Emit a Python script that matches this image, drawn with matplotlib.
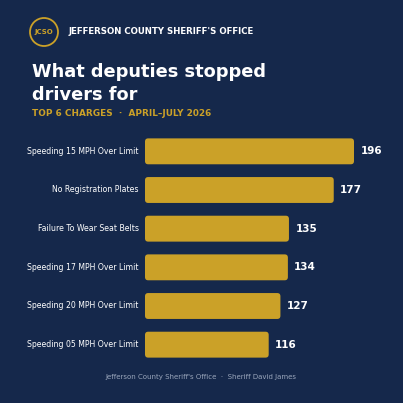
import matplotlib
matplotlib.use("Agg")
import matplotlib.pyplot as plt
from matplotlib.patches import FancyBboxPatch, Circle

charges = ["Speeding 15 MPH Over Limit", "No Registration Plates", "Failure To Wear Seat Belts",
           "Speeding 17 MPH Over Limit", "Speeding 20 MPH Over Limit", "Speeding 05 MPH Over Limit"]
counts = [196, 177, 135, 134, 127, 116]

BG = "#15284b"
GOLD = "#cba128"
plt.rcParams['font.family'] = ['DejaVu Sans']
fig = plt.figure(figsize=(4.03, 4.03), dpi=100, facecolor=BG)
W = H = 403.0
ax = fig.add_axes([145/W, (403-364)/H, 245/W, 232/H])
ax.set_facecolor(BG)
xmax = 196*245/209
ax.set_xlim(0, xmax)
ax.set_ylim(len(charges)-0.5, -0.5)
ys = list(range(len(charges)))
aspect = (1/38.7)/(xmax/245)
bars = ax.barh(ys, counts, height=0.67, color=GOLD)
for b, v, lab, y in zip(bars, counts, charges, ys):
    x0, y0, w, h = b.get_x(), b.get_y(), b.get_width(), b.get_height()
    b.set_visible(False)
    ax.add_patch(FancyBboxPatch((x0, y0), w, h, boxstyle="round,pad=0,rounding_size=3",
                                mutation_aspect=aspect, fc=GOLD, ec="none"))
    ax.text(v + 6, y, str(v), color="white", fontsize=7.5, fontweight="bold", va="center")
    ax.text(-6, y, lab, color="white", fontsize=5.6, va="center", ha="right")
ax.axis("off")

fig.patches.append(Circle((44/W, 1-32/H), 14/W, transform=fig.transFigure, fc="none", ec=GOLD, lw=1.3))
fig.text(44/W, 1-32/H, "JCSO", color=GOLD, fontsize=5, fontweight="bold", ha="center", va="center")
fig.text(69/W, 1-32/H, "JEFFERSON COUNTY SHERIFF'S OFFICE", color="white", fontsize=6.2, fontweight="bold", va="center")
fig.text(32/W, 1-72/H, "What deputies stopped", color="white", fontsize=12.8, fontweight="bold", va="center")
fig.text(32/W, 1-95/H, "drivers for", color="white", fontsize=12.8, fontweight="bold", va="center")
fig.text(32/W, 1-113/H, "TOP 6 CHARGES  ·  APRIL–JULY 2026", color=GOLD, fontsize=6.4, fontweight="bold", va="center")
fig.text(201/W, 1-377/H, "Jefferson County Sheriff's Office  ·  Sheriff David James", color="#9aa6bb", fontsize=5.0, ha="center", va="center")
fig.savefig("out.png", dpi=100, facecolor=BG)
